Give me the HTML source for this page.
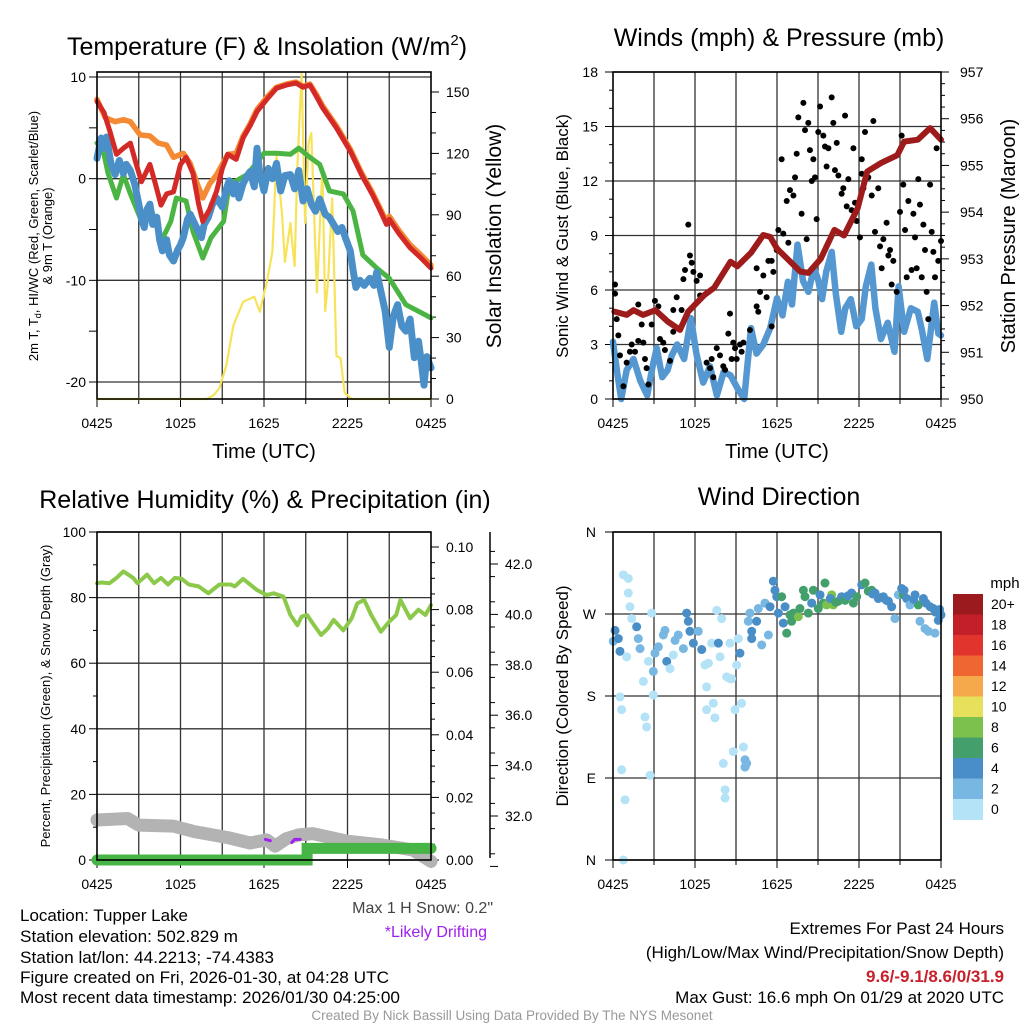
<!DOCTYPE html>
<html><head><meta charset="utf-8"><style>
html,body{margin:0;padding:0;background:#fff;}
svg{display:block;font-family:"Liberation Sans",Arial,sans-serif;}
</style></head><body>
<svg id="chart" width="1024" height="1024" viewBox="0 0 1024 1024" xmlns="http://www.w3.org/2000/svg">
<rect x="0" y="0" width="1024" height="1024" fill="#fff"/>
<g id="layer"></g>
<text x="267" y="55" font-size="25" text-anchor="middle">Temperature (F) &amp; Insolation (W/m<tspan font-size="15" dy="-10">2</tspan><tspan dy="10">)</tspan></text>
<text transform="translate(38,236) rotate(-90)" font-size="13" text-anchor="middle">2m T, T<tspan font-size="9" dy="3">d</tspan><tspan dy="-3">, HI/WC (Red, Green, Scarlet/Blue)</tspan></text>
<text transform="translate(52,236) rotate(-90)" font-size="13" text-anchor="middle">&amp; 9m T (Orange)</text>
<text transform="translate(501,236) rotate(-90)" font-size="21" text-anchor="middle">Solar Insolation (Yellow)</text>
<text x="264" y="458" font-size="20" text-anchor="middle">Time (UTC)</text>

<text x="779" y="46" font-size="25" text-anchor="middle">Winds (mph) &amp; Pressure (mb)</text>
<text transform="translate(568,236) rotate(-90)" font-size="17" text-anchor="middle">Sonic Wind &amp; Gust (Blue, Black)</text>
<text transform="translate(1015,236) rotate(-90)" font-size="20" text-anchor="middle">Station Pressure (Maroon)</text>
<text x="777" y="458" font-size="20" text-anchor="middle">Time (UTC)</text>

<text x="265" y="508" font-size="25" text-anchor="middle">Relative Humidity (%) &amp; Precipitation (in)</text>
<text transform="translate(50,696) rotate(-90)" font-size="13" text-anchor="middle">Percent, Precipitation (Green), &amp; Snow Depth (Gray)</text>
<text x="493" y="913" font-size="16" fill="#444" text-anchor="end">Max 1 H Snow: 0.2"</text>
<text x="487" y="937" font-size="16" fill="#a020f0" text-anchor="end">*Likely Drifting</text>

<text x="779" y="505" font-size="25" text-anchor="middle">Wind Direction</text>
<text transform="translate(568,696) rotate(-90)" font-size="17" text-anchor="middle">Direction (Colored By Speed)</text>
<text x="1005" y="588" font-size="15" text-anchor="middle">mph</text>

<g font-size="17">
<text x="20" y="921" textLength="168" lengthAdjust="spacingAndGlyphs">Location: Tupper Lake</text>
<text x="20" y="942" textLength="218" lengthAdjust="spacingAndGlyphs">Station elevation: 502.829 m</text>
<text x="20" y="963" textLength="254" lengthAdjust="spacingAndGlyphs">Station lat/lon: 44.2213; -74.4383</text>
<text x="20" y="983" textLength="369" lengthAdjust="spacingAndGlyphs">Figure created on Fri, 2026-01-30, at 04:28 UTC</text>
<text x="20" y="1003" textLength="380" lengthAdjust="spacingAndGlyphs">Most recent data timestamp: 2026/01/30 04:25:00</text>
</g>
<g font-size="17" text-anchor="end">
<text x="1004" y="934">Extremes For Past 24 Hours</text>
<text x="1004" y="958">(High/Low/Max Wind/Precipitation/Snow Depth)</text>
<text x="1004" y="982" font-weight="bold" fill="#c8202a">9.6/-9.1/8.6/0/31.9</text>
<text x="1004" y="1003">Max Gust: 16.6 mph On 01/29 at 2020 UTC</text>
</g>
<text x="512" y="1020" font-size="13.5" fill="#999" text-anchor="middle">Created By Nick Bassill Using Data Provided By The NYS Mesonet</text>
</svg>
<script>
// ---------- DATA ----------
var xTickLabels = ["0425","1025","1625","2225","0425"];
var tempTicks = [10,0,-10,-20];
var solarTicks = [0,30,60,90,120,150];
var redT = [0,0.5,0.94,1.4,1.9,2.4,2.8,3.2,3.8,4.2,4.6,5.0,5.5,6,6.4,6.9,7.3,7.6,8.1,8.6,9.0,9.4,10,10.5,11,11.5,12.2,12.9,13.6,14.3,14.8,15.3,15.8,16.2,17.2,18.2,19,19.8,20.3,20.8,21,21.7,22.5,23.2,24];
var redV = [7.6,6.5,4.6,2.4,3.0,3.5,1.5,-0.3,1.4,-0.5,-2.6,-1.5,-1.3,1.4,2.1,0.5,-2.5,-4.2,-3.0,-1.2,1.0,2.4,1.9,4.0,5.2,6.6,7.8,8.9,9.2,9.4,9.0,9.2,8.0,7.0,5.0,2.7,0.4,-1.6,-3.0,-4.5,-4.0,-5.4,-6.8,-7.7,-8.8];
var orangeT = [0,0.6,1.3,1.9,2.4,3.1,3.8,4.4,5,5.5,6.2,6.7,7.2,7.6,8.1,8.6,9.4,10,10.5,11,11.5,12.2,12.9,13.6,14.3,14.8,15.3,15.8,16.2,17.2,18.2,19,19.8,20.3,20.8,21,21.7,22.5,23.2,24];
var orangeV = [7.8,6.0,5.6,5.8,5.6,4.3,4.2,3.5,3.3,2.1,2.5,1.5,-0.5,-1.9,-0.5,0.4,2.4,2.5,4.2,5.4,6.8,8.0,9.0,9.3,9.5,9.1,9.3,8.2,7.2,5.2,2.9,0.6,-1.4,-2.8,-4.2,-3.7,-5.1,-6.5,-7.4,-8.5];
var greenT = [0,0.3,0.8,1.4,1.9,2.4,3.3,3.8,4.6,5.3,5.7,6.4,6.9,7.6,8.2,9.1,9.5,10.8,12,12.9,13.9,14.5,15.3,16,16.7,17.7,18.4,19.1,20.1,21,22.2,24];
var greenV = [3.5,3.7,0.5,-1.9,0.4,-1.5,-4.5,-2.5,-6.2,-4.2,-1.9,-2.2,-5.2,-7.8,-5.8,-4.2,-0.6,0.4,2.5,2.5,2.4,3.0,2.1,1.4,-1.2,-1.5,-3.2,-7.5,-8.8,-9.8,-12.4,-13.7];
var blueT = [0,0.3,0.5,0.7,1.0,1.3,1.6,1.9,2.1,2.4,2.7,3.0,3.2,3.4,3.6,3.8,4.0,4.3,4.5,4.7,5.0,5.2,5.5,5.8,6.0,6.2,6.5,6.7,7.5,7.7,8.0,8.3,8.6,9.0,9.3,9.5,9.8,10.0,10.2,10.5,10.8,11.0,11.3,11.5,11.7,12.0,12.3,12.6,12.9,13.2,13.5,13.9,14.2,14.5,14.8,15.1,15.4,15.7,16.0,16.4,16.7,17.0,17.3,17.6,17.9,18.2,18.4,18.6,18.9,19.2,19.6,19.9,20.1,20.4,20.7,21.0,21.3,21.6,21.9,22.2,22.5,22.8,23.1,23.3,23.5,23.7,24.0];
var blueV = [2.0,4.0,3.0,4.1,1.5,0.4,1.8,0.5,1.4,0.8,-0.5,-2.5,-4.0,-4.8,-3.0,-2.5,-4.5,-3.8,-6.0,-7.1,-6.0,-7.5,-8.1,-7.0,-6.5,-5.8,-4.0,-3.5,-5.8,-4.5,-3.8,-2.5,-1.9,-2.8,-1.0,-0.2,-1.5,-0.5,-1.9,-0.5,0.3,0.7,-0.8,3.0,0.5,-1.2,1.0,0.0,1.5,-1.2,0.3,0.4,-1.0,0.8,-2.2,-1.0,-2.5,-3.2,-2.0,-3.5,-3.8,-4.5,-5.2,-4.8,-6.0,-7.1,-9.0,-10.7,-10.0,-10.5,-9.8,-10.5,-9.2,-11.1,-13.0,-16.6,-13.5,-12.4,-14.5,-15.0,-13.8,-17.6,-16.0,-18.0,-20.3,-17.5,-18.6];
var solarT = [0,7.9,8.4,8.8,9.3,9.8,10.5,11.3,11.7,12.2,12.6,12.9,13.3,13.5,13.9,14.2,14.4,14.7,14.95,15.2,15.4,15.8,16.2,16.4,16.6,16.9,17.2,17.5,17.8,18.3,24];
var solarV = [0,0,2,5.4,16.6,36,47.5,50,42.6,57,72,119,90,67,86,65,114,159,86,125,130,52,113,43,57,98,21,20,3,0,0];

var windTicks = [0,3,6,9,12,15,18];
var pressTicks = [950,951,952,953,954,955,956,957];
var pressT = [0.1,1,1.5,2.2,3.1,4.0,4.9,5.5,6.7,7.4,8.6,9.1,10.1,11.0,11.5,12,13.7,14.3,15.2,16.2,16.9,17.9,18.6,19.6,20.8,21.3,22.3,23.2,24];
var pressV = [951.87,951.8,951.9,951.8,951.9,951.66,951.48,951.87,952.23,952.38,952.94,952.84,953.13,953.51,953.47,953.22,952.73,952.7,953.0,953.62,953.5,954.08,954.87,955.05,955.22,955.51,955.55,955.8,955.55];
var sonicT = [0,0.3,0.6,1.0,1.5,2.0,2.5,2.9,3.2,3.6,4.0,4.3,4.7,5.2,5.7,6.1,6.6,7.1,7.6,8.1,8.6,9.1,9.6,10.1,10.5,11.0,11.5,12,12.4,12.8,13.1,13.5,13.9,14.3,14.7,15,15.3,15.6,16,16.3,16.7,17.0,17.4,17.8,18.2,18.5,18.9,19.2,19.6,20.1,20.6,20.9,21.3,21.8,22.3,22.6,23,23.5,23.8,24];
var sonicV = [3.15,1.5,0,1.6,2.2,1.0,0.2,1.8,2.8,1.2,1.6,2.4,3.0,2.2,4.45,2.5,0.9,1.8,0.2,1.5,1.3,0.6,0,3.9,2.5,3.0,3.9,5.55,4.6,6.45,5.2,8.5,6.5,5.9,7.2,6.6,5.5,7.0,8.1,5.8,3.7,5.0,5.5,4.0,4.4,6.2,7.4,5.0,3.3,4.2,2.6,6.2,3.7,5.0,4.8,3.8,2.2,5.3,3.6,3.5];
var gustT = [0.15,0.15,0.27,0.39,0.51,0.76,1.0,1.24,1.37,1.61,1.85,1.85,2.1,2.22,2.34,2.46,2.59,2.83,3.07,3.32,3.44,3.68,3.8,4.17,4.41,4.41,4.66,5.02,5.15,5.27,5.51,5.63,5.76,5.88,6.12,6.37,6.37,6.85,7.1,7.22,7.34,7.59,7.83,8.07,8.2,8.44,8.56,8.68,8.8,8.93,9.05,9.29,9.41,9.54,10.02,10.51,10.51,10.63,10.76,11.0,11.24,11.37,11.61,11.73,11.61,11.98,12.1,12.34,12.46,12.71,12.83,12.95,13.2,13.32,13.44,13.56,13.8,13.93,14.05,14.17,14.29,14.41,14.54,14.66,14.78,14.9,15.02,15.15,15.39,15.51,15.63,15.76,16.0,16.12,16.24,16.37,16.49,16.73,16.85,16.98,17.1,17.22,17.46,17.59,17.71,17.83,18.07,18.2,18.2,18.32,18.44,18.68,18.93,19.05,19.17,19.41,19.54,19.66,19.78,20.02,20.15,20.27,20.39,20.51,20.76,21.0,21.12,21.24,21.37,21.49,21.61,21.85,21.98,22.1,22.22,22.34,22.46,22.59,22.71,22.83,22.95,23.07,23.2,23.32,23.44,23.56,23.68,23.8,24.0];
var gustV = [6.3,5.8,4.4,3.5,2.4,0.7,2.0,2.6,3.0,2.6,3.2,5.2,4.1,3.1,2.2,1.7,0.8,4.1,5.4,5.1,3.3,3.1,2.7,2.1,3.7,4.9,5.6,4.9,6.6,7.1,9.6,7.9,7.5,7.0,6.5,6.8,5.7,2.0,1.7,2.2,1.2,2.8,2.4,1.8,1.6,3.6,4.7,2.2,3.1,2.8,2.2,3.0,2.6,3.1,3.8,5.1,7.2,4.8,5.9,6.8,5.6,7.6,7.6,7.0,4.0,8.2,9.3,13.2,9.1,10.9,8.6,11.5,11.2,12.2,13.5,15.5,10.2,16.3,14.8,8.8,15.2,13.7,12.0,13.2,12.2,9.9,14.7,16.1,14.5,13.9,12.8,13.8,16.6,15.2,12.6,14.1,12.3,11.3,11.6,15.6,10.6,12.1,10.4,13.8,10.8,9.8,8.9,13.2,12.4,11.6,14.7,12.2,11.2,15.3,9.2,11.6,8.4,7.2,8.8,9.7,7.9,8.2,6.3,7.6,5.9,10.3,14.5,11.8,9.3,6.7,10.9,7.1,10.2,8.9,7.2,12.1,10.7,6.7,9.6,8.2,5.9,4.4,11.8,9.2,8.1,6.7,13.8,7.6,8.7];

var rhTicks = [0,20,40,60,80,100];
var precipTicks = ["0.00","0.02","0.04","0.06","0.08","0.10"];
var snowTicks = ["32.0","34.0","36.0","38.0","40.0","42.0"];
var rhT = [0,0.3,0.9,1.4,1.9,2.6,2.9,3.6,4.1,4.6,5.1,5.6,6.1,6.6,7.3,8.0,8.8,9.6,9.9,10.5,11.5,12.2,12.7,13.4,13.9,14.4,14.7,15.1,15.6,16.1,16.6,17,17.7,18.3,18.7,19.2,19.7,20.4,21,21.5,21.8,22.5,23.1,23.6,24];
var rhV = [84.4,84.6,84.4,86,88,86,84.4,87,84.4,86,84,86,85.7,84,83.4,81.3,84,84,83.4,85.7,82.3,80.8,81.3,80.3,74.7,71.6,74.2,74.7,71.6,68.6,70.6,73.2,70,73.7,78.2,79.3,74.7,69.6,72.7,74.7,79.3,73.7,76.3,74.7,77.7];
var snowT = [0,2.2,3,5.5,7,9.5,11,12.2,12.8,13.6,14.5,15.5,18,20.5,22.7,24];
var snowV = [31.84,31.9,31.64,31.6,31.38,31.13,30.93,31.05,30.8,31.1,31.25,31.3,31.0,30.85,30.65,30.2];
var driftT1 = [12.1,12.45], driftV1 = [31.07,31.02];
var driftT2 = [14.0,14.2,14.6], driftV2 = [30.95,31.07,31.07];
var precipT = [0,15.1,15.1,24];
var precipV = [0,0,0.0037,0.0037];

var dirLabels = ["N","E","S","W","N"];
var dirT = [0.15,0.02,0.39,0.51,0.76,1.12,1.12,1.24,1.37,1.73,1.85,1.98,1.0,0.51,0.63,0.63,0.88,0.76,2.22,2.34,2.46,2.59,2.71,2.83,2.95,2.95,3.07,3.32,3.68,3.8,3.93,4.17,4.41,4.54,4.78,5.15,5.39,5.51,5.63,5.88,6.24,6.49,6.73,6.85,6.98,6.85,7.22,7.34,7.46,7.59,7.71,7.95,7.83,8.07,8.2,8.2,8.32,8.56,8.56,8.68,8.8,8.93,9.05,9.17,9.29,9.41,9.54,9.66,9.66,9.78,9.9,10.02,10.15,10.15,10.51,10.63,10.88,11.12,11.37,11.49,11.73,11.85,11.98,12.1,12.34,12.46,12.59,12.71,12.95,13.07,13.2,13.56,13.68,13.93,14.05,14.29,14.54,14.66,15.02,15.15,15.39,15.51,15.63,16.0,16.12,16.49,16.73,16.98,17.46,17.59,17.83,18.2,18.44,18.68,18.93,19.17,19.41,19.78,20.15,20.39,20.63,20.88,21.12,21.24,21.49,21.73,22.1,22.34,22.46,22.71,22.83,23.07,23.44,23.8,24.0,23.56,15.9,16.3,17.2,19.0,19.6,20.0,21.3,22.0,22.9,23.2,23.6,23.9];
var dirV = [252,240,243,229,313,309,293,278,265,256,243,232,223,179,165,99,66,0,196,157,146,218,93,271,207,181,227,234,247,252,218,210,225,241,247,232,271,262,251,238,251,231,214,190,216,165,238,172,156,274,238,265,223,106,77,68,201,238,199,199,119,165,214,243,227,172,124,110,102,106,262,271,251,243,262,276,236,282,247,278,306,296,289,271,289,260,278,249,269,262,271,267,276,296,289,271,282,296,276,291,282,304,280,291,280,284,289,285,293,282,289,302,304,295,296,293,287,289,284,278,265,291,298,291,287,280,291,280,262,287,254,251,276,263,269,249,287,283,290,292,288,285,296,286,282,278,272,275];
var dirS = [4,2,4,4,0,0,0,0,0,4,2,2,0,0,0,0,0,0,0,0,0,0,0,0,2,0,2,2,2,2,4,0,0,2,2,2,4,4,4,4,2,4,0,0,0,0,0,0,0,0,4,0,0,0,0,0,0,0,0,0,0,0,0,0,4,0,0,2,2,2,2,2,4,4,4,2,2,2,2,4,4,4,4,4,6,4,4,6,6,6,6,8,6,6,6,6,4,6,6,4,6,6,8,8,8,6,4,6,4,6,6,4,6,6,6,4,4,4,4,4,2,2,4,6,4,2,4,6,2,4,2,2,4,4,4,2,4,6,4,4,4,4,4,4,4,4,4,4];
var speedBins = ["0","2","4","6","8","10","12","14","16","18","20+"];
var speedColors = ["#b4e2f7","#78b7e2","#4a8ec7","#43a06c","#7cc04d","#e6e05a","#f6a94b","#ef6630","#e0342c","#c21f28","#9b1a1e"];

// ---------- DRAWING ----------
var NS = "http://www.w3.org/2000/svg";
var layer = document.getElementById("layer");
function mk(tag, attrs, parent) {
  var el = document.createElementNS(NS, tag);
  for (var k in attrs) el.setAttribute(k, attrs[k]);
  (parent || layer).appendChild(el);
  return el;
}
function lin(d0, d1, r0, r1) { return function (v) { return r0 + (v - d0) / (d1 - d0) * (r1 - r0); }; }
function pathD(xs, ys, fx, fy) {
  var s = "";
  for (var i = 0; i < xs.length; i++) s += (i ? "L" : "M") + fx(xs[i]).toFixed(1) + "," + fy(ys[i]).toFixed(1);
  return s;
}
function line(xs, ys, fx, fy, color, w, name, extra) {
  var p = mk("path", {d: pathD(xs, ys, fx, fy), fill: "none", stroke: color, "stroke-width": w, "stroke-linejoin": "round", "stroke-linecap": "round"});
  
  
  if (extra) for (var k in extra) p.setAttribute(k, extra[k]);
  return p;
}
function txt(x, y, s, size, anchor, name) {
  var t = mk("text", {x: x, y: y, "font-size": size, "text-anchor": anchor});
  t.textContent = s;
  
  
  return t;
}
function frameAndGrid(L, R, T, B, hGrid, prefix) {
  var fx = lin(0, 24, L, R);
  for (var k = 1; k < 8; k++) {
    var gx = fx(k * 3);
    var g = mk("line", {x1: gx, x2: gx, y1: T, y2: B, stroke: "#333", "stroke-width": 1.3});
    
    
  }
  for (var j = 0; j < hGrid.length; j++) {
    var h = mk("line", {x1: L, x2: R, y1: hGrid[j], y2: hGrid[j], stroke: "#333", "stroke-width": 1.3});
    
    
  }
  for (var i = 0; i < xTickLabels.length; i++) {
    var tx = fx(i * 6);
    txt(tx, B + 29, xTickLabels[i], 14, "middle", prefix + "-x-tick-label");
  }
  for (var m = 0; m <= 8; m++) {
    var mx = fx(m * 3);
    var tk = mk("line", {x1: mx, x2: mx, y1: B, y2: B + (m % 2 ? 5 : 8), stroke: "#000", "stroke-width": 1});
    
    
  }
  return fx;
}
function frame(L, R, T, B, prefix) {
  var f = mk("rect", {x: L, y: T, width: R - L, height: B - T, fill: "none", stroke: "#000", "stroke-width": 1.6});
  
  
}

// Panel 1: temperature
(function () {
  var L = 97, R = 431, T = 72, B = 399;
  var fy = lin(10, -20, 77, 382);
  var fs = lin(0, 150, 399, 92);
  var hg = tempTicks.map(fy);
  var fx = frameAndGrid(L, R, T, B, hg, "temp");
  tempTicks.forEach(function (v) { txt(86, fy(v) + 5, String(v), 14, "end", "temp-y-tick-label"); });
  for (var v = -20; v <= 10; v += 5) {
    var tk = mk("line", {x1: L - 8, x2: L, y1: fy(v), y2: fy(v), stroke: "#000", "stroke-width": 1});
    
    
  }
  solarTicks.forEach(function (v) { txt(446, fs(v) + 5, String(v), 14, "start", "solar-y-tick-label"); });
  for (var s = 0; s <= 150; s += 10) {
    var tk2 = mk("line", {x1: R, x2: R + (s % 30 ? 5 : 8), y1: fs(s), y2: fs(s), stroke: "#000", "stroke-width": 1});
    
    
  }
  line(solarT, solarV, fx, fs, "#f7e35a", 2.2, "solar-insolation-line");
  line(greenT, greenV, fx, fy, "#4bb543", 5, "dewpoint-line");
  line(blueT, blueV, fx, fy, "#4a8fc8", 7, "wind-chill-line");
  line(orangeT, orangeV, fx, fy, "#f58a34", 5.5, "temp-9m-line");
  line(redT, redV, fx, fy, "#d42a27", 5, "temp-2m-line");
  frame(L, R, T, B, "temp");
})();

// Panel 2: winds & pressure
(function () {
  var L = 613, R = 941, T = 72, B = 399;
  var fy = lin(0, 18, 399, 72);
  var fp = lin(950, 957, 399, 72);
  var fx = frameAndGrid(L, R, T, B, windTicks.map(fy), "wind");
  windTicks.forEach(function (v) { txt(598, fy(v) + 5, String(v), 14, "end", "wind-y-tick-label"); });
  for (var v = 0; v <= 18; v += 1) {
    var tk = mk("line", {x1: L - (v % 3 ? 4 : 8), x2: L, y1: fy(v), y2: fy(v), stroke: "#000", "stroke-width": 1});
    
    
  }
  pressTicks.forEach(function (v) { txt(960, fp(v) + 5, String(v), 14, "start", "pressure-y-tick-label"); });
  for (var p = 950; p <= 957; p += 0.25) {
    var tk2 = mk("line", {x1: R, x2: R + (p % 1 ? 4 : 8), y1: fp(p), y2: fp(p), stroke: "#000", "stroke-width": 1});
    
    
  }
  line(sonicT, sonicV, fx, fy, "#5598d1", 6.5, "sonic-wind-line");
  for (var i = 0; i < gustT.length; i++) {
    var c = mk("circle", {cx: fx(gustT[i]), cy: fy(gustV[i]), r: 3, fill: "#000"});
    
    
  }
  line(pressT, pressV, fx, fp, "#9e1b1b", 6, "pressure-line");
  frame(L, R, T, B, "wind");
})();

// Panel 3: humidity & precip
(function () {
  var L = 97, R = 431, T = 532, B = 860;
  var fy = lin(0, 100, 860, 532);
  var fpr = lin(0, 0.10, 860, 547);
  var fsn = lin(32, 42, 816, 564);
  var fx = frameAndGrid(L, R, T, B, rhTicks.map(fy), "rh");
  rhTicks.forEach(function (v) { txt(86, fy(v) + 5, String(v), 14, "end", "rh-y-tick-label"); });
  for (var v = 0; v <= 100; v += 10) {
    var tk = mk("line", {x1: L - (v % 20 ? 4 : 8), x2: L, y1: fy(v), y2: fy(v), stroke: "#000", "stroke-width": 1});
    
    
  }
  precipTicks.forEach(function (s) { txt(446, fpr(+s) + 5, s, 14, "start", "precip-y-tick-label"); });
  for (var p = 0; p <= 0.1001; p += 0.005) {
    var maj = Math.abs(p / 0.02 - Math.round(p / 0.02)) < 0.01;
    var tk2 = mk("line", {x1: R, x2: R + (maj ? 8 : 4), y1: fpr(p), y2: fpr(p), stroke: "#000", "stroke-width": 1});
    
    
  }
  var ax = mk("line", {x1: 490, x2: 490, y1: 532, y2: 858, stroke: "#000", "stroke-width": 1.5});
  
  
  snowTicks.forEach(function (s) { txt(505, fsn(+s) + 5, s, 14, "start", "snow-y-tick-label"); });
  for (var d = 30.5; d <= 43; d += 1) {
    var tk3 = mk("line", {x1: 490, x2: 495, y1: fsn(d), y2: fsn(d), stroke: "#000", "stroke-width": 1});
    
    
  }
  for (var d2 = 30; d2 <= 42; d2 += 2) {
    var tk4 = mk("line", {x1: 490, x2: 498, y1: fsn(d2), y2: fsn(d2), stroke: "#000", "stroke-width": 1});
    
    
  }
  line(rhT, rhV, fx, fy, "#8cc94a", 4, "relative-humidity-line");
  line(snowT, snowV, fx, fsn, "#b3b3b3", 13, "snow-depth-line");
  line(driftT1, driftV1, fx, fsn, "#a020f0", 3, "drifting-segment-1");
  line(driftT2, driftV2, fx, fsn, "#a020f0", 3, "drifting-segment-2");
  line(precipT, precipV, fx, fpr, "#46b545", 11, "precipitation-line", {"stroke-linejoin": "miter"});
  frame(L, R, T, B, "rh");
})();

// Panel 4: wind direction
(function () {
  var L = 613, R = 941, T = 532, B = 860;
  var fy = lin(0, 360, 860, 532);
  var hg = [0, 90, 180, 270, 360].map(fy);
  var fx = frameAndGrid(L, R, T, B, hg, "dir");
  dirLabels.forEach(function (s, i) { txt(596, fy(i * 90) + 5, s, 14, "end", "dir-y-tick-label"); });
  for (var a = 0; a <= 360; a += 90) {
    var tk = mk("line", {x1: L - 8, x2: L, y1: fy(a), y2: fy(a), stroke: "#000", "stroke-width": 1});
    
    
  }
  for (var i = 0; i < dirT.length; i++) {
    var ci = Math.min(10, Math.floor(dirS[i] / 2));
    var c = mk("circle", {cx: fx(dirT[i]), cy: fy(dirV[i]), r: 4.5, fill: speedColors[ci]});
    
    
  }
  frame(L, R, T, B, "dir");
  var cbTop = 594, cbH = 20.5;
  for (var k = 0; k < speedBins.length; k++) {
    var idx = speedBins.length - 1 - k;
    var r = mk("rect", {x: 953, y: cbTop + k * cbH, width: 30, height: cbH + 0.5, fill: speedColors[idx]});
    
    
    txt(991, cbTop + k * cbH + 15, speedBins[idx], 14, "start", "colorbar-label");
  }
})();
</script>
</body></html>
